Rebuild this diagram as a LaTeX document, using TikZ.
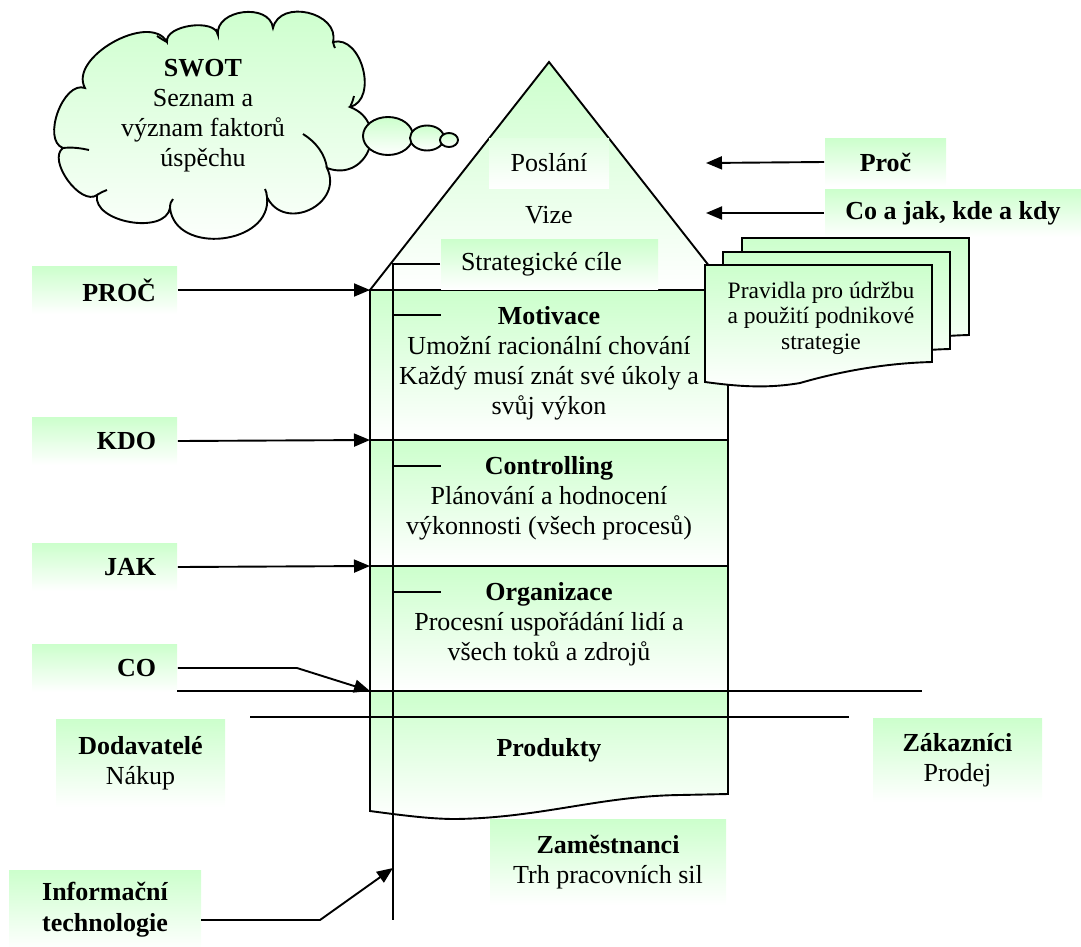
\documentclass[tikz,border=0pt]{standalone}
\usepackage{fontspec}
\setmainfont{Liberation Serif}
\usetikzlibrary{shapes.geometric,arrows.meta}
\definecolor{lg}{RGB}{204,255,204}
\begin{document}
\begin{tikzpicture}[x=1pt,y=-1pt, line width=1.9pt,
  every node/.style={font=\fontsize{26}{30}\selectfont, inner sep=0pt},
  gfill/.style={top color=lg, bottom color=white},
  gbox/.style={top color=lg, bottom color=white, draw=none},
  lbl/.style={gbox, minimum width=145pt, minimum height=48pt, text width=103pt, align=right, inner xsep=21pt, font=\fontsize{26}{30}\selectfont\bfseries},
  arr/.style={-{Triangle[length=16pt,width=13pt]}},
  docshape/.pic={\path[gfill,draw] (0,0) -- (227,0) -- (227,97) .. controls (185,98) and (140,105) .. (95,118) .. controls (60,124) and (30,121) .. (0,117) -- cycle;}
]
\useasboundingbox (0,0) rectangle (1081,946);

% cloud
\path[gfill, draw] (167,42) .. controls (164.7,25) and (215.7,18) .. (218,35)
  .. controls (214.7,9.3) and (269.7,2.3) .. (273,28)
  .. controls (279.9,-1.6) and (339.9,12.4) .. (333,42)
  .. controls (361.6,34.5) and (378.6,99.5) .. (350,107)
  .. controls (390.7,122.4) and (367.7,183.4) .. (327,168)
  .. controls (344.4,204) and (284.4,233) .. (267,197)
  .. controls (272.4,244.8) and (175.4,255.8) .. (170,208)
  .. controls (165.1,235.3) and (92.1,222.3) .. (97,195)
  .. controls (80.7,206.8) and (46.7,159.8) .. (63,148)
  .. controls (41.4,140.1) and (63.4,80.1) .. (85,88)
  .. controls (67.9,57.5) and (149.9,11.5) .. (167,42) -- cycle;
\draw (303,134) .. controls (316,142) and (325,154) .. (327,168);
\draw (63,148) .. controls (72,147) and (80,148) .. (89,150);
\draw (97,195) .. controls (100,193) and (104,191) .. (107,190);
\draw (170,208) .. controls (170,204) and (171,201) .. (173,199);
\draw (267,197) .. controls (267,194) and (266,191) .. (265,189);
\draw (350,107) .. controls (352,103) and (353,100) .. (354,96);
\draw (333,42) .. controls (334,45) and (334,47) .. (335,48);
\draw (218,35) .. controls (217,33) and (217,31) .. (216,29);
\draw (167,42) .. controls (163,40) and (160,38) .. (157,36);
\node[ellipse, draw, gfill, minimum width=50pt, minimum height=38pt] (b1) at (388,136) {};
\node[ellipse, draw, gfill, minimum width=34pt, minimum height=25pt] (b2) at (427,138) {};
\node[ellipse, draw, gfill, minimum width=18pt, minimum height=14pt] (b3) at (449,140) {};
\node[align=center] (swot) at (203,116) {\textbf{SWOT}\\Seznam a\\význam faktorů\\úspěchu};

% roof
\draw[gfill] (549,62) -- (728,290) -- (370,290) -- cycle;
\node[top color=lg!55!white, bottom color=white, minimum width=120pt, minimum height=50pt] (poslani) at (549,163) {Poslání};
\node (vize) at (549,215) {Vize};

% body bands
\path[gfill] (370,290) rectangle (728,440);
\path[gfill] (370,440) rectangle (728,566);
\path[gfill] (370,566) rectangle (728,691);
\path[gfill] (370,691) -- (728,691) -- (728,794) -- (680,795) .. controls (600,796) and (540,818) .. (455,819) .. controls (430,819) and (400,815) .. (370,811) -- cycle;
\draw (728,290) -- (370,290) -- (370,811) .. controls (400,815) and (430,819) .. (455,819) .. controls (540,818) and (600,796) .. (680,795) -- (728,794) -- cycle;
\draw (370,440) -- (728,440);
\draw (370,566) -- (728,566);

\node[gbox, minimum width=217pt, minimum height=50pt, text width=177pt, inner xsep=20pt, align=flush left] (strat) at (549.5,264) {Strategické cíle};

% inner vertical line and ticks
\coordinate (vtop) at (393,264);
\coordinate (vbot) at (393,920);
\draw (strat.west) -- (vtop) -- (vbot);
\draw (393,315) -- (441,315);
\draw (393,466) -- (441,466);
\draw (393,592) -- (441,592);

% texts in body
\node[align=center] (motiv) at (549,363) {\textbf{Motivace}\\Umožní racionální chování\\Každý musí znát své úkoly a\\svůj výkon};
\node[align=center] (contr) at (549,498) {\textbf{Controlling}\\Plánování a hodnocení\\výkonnosti (všech procesů)};
\node[align=center] (organ) at (549,624) {\textbf{Organizace}\\Procesní uspořádání lidí a\\všech toků a zdrojů};
\node (produkty) at (549,750) {\textbf{Produkty}};

% left labels
\node[lbl] (proc) at (104.5,290) {PROČ};
\node[lbl] (kdo) at (104.5,441) {KDO};
\node[lbl] (jak) at (104.5,567) {JAK};
\node[lbl] (co) at (104.5,668) {CO};

\coordinate (hP) at (370,290);
\coordinate (hK) at (370,440);
\coordinate (hJ) at (370,566);
\coordinate (hC) at (370,691);
\coordinate (coBend) at (297,668);
\draw[arr] (proc.east) -- (hP);
\draw[arr] (kdo.east) -- (hK);
\draw[arr] (jak.east) -- (hJ);
\draw[arr] (co.east) -- (coBend) -- (hC);

% horizontal long lines
\coordinate (l1a) at (177,691);
\coordinate (l1b) at (922,691);
\coordinate (l2a) at (250,717);
\coordinate (l2b) at (849,717);
\draw (l1a) -- (l1b);
\draw (l2a) -- (l2b);

% bottom labels
\node[gbox, minimum width=169pt, minimum height=88pt, align=center] (dod) at (140.5,763) {\textbf{Dodavatelé}\\Nákup};
\node[gbox, minimum width=169pt, minimum height=84pt, align=center] (zak) at (957.5,760) {\textbf{Zákazníci}\\Prodej};
\node[gbox, minimum width=236pt, minimum height=86pt, align=center] (zam) at (608,862) {\textbf{Zaměstnanci}\\Trh pracovních sil};
\node[gbox, minimum width=192pt, minimum height=80pt, align=center, font=\fontsize{26}{31}\selectfont\bfseries] (info) at (105,910) {Informační\\technologie};
\coordinate (infoOut) at (201,920);
\coordinate (infoBend) at (320,920);
\coordinate (infoTip) at (393,868);
\draw[arr] (infoOut) -- (infoBend) -- (infoTip);

% right labels
\node[gbox, minimum width=121pt, minimum height=48pt, font=\fontsize{26}{30}\selectfont\bfseries] (proc2) at (885.5,162) {Proč};
\node[gbox, minimum width=256pt, minimum height=48pt, font=\fontsize{26}{30}\selectfont\bfseries] (coajak) at (953,213) {Co a jak, kde a kdy};
\coordinate (rP) at (706,163);
\coordinate (rC) at (706,213);
\draw[arr] (proc2.west) -- (rP);
\draw[arr] (coajak.west) -- (rC);

% rules documents
\pic at (742,238) {docshape};
\pic at (723,252) {docshape};
\pic at (705,265) {docshape};
\node[align=center, font=\fontsize{23.5}{25.5}\selectfont] (pravidla) at (821,318) {Pravidla pro údržbu\\a použití podnikové\\strategie};
\end{tikzpicture}
\end{document}
